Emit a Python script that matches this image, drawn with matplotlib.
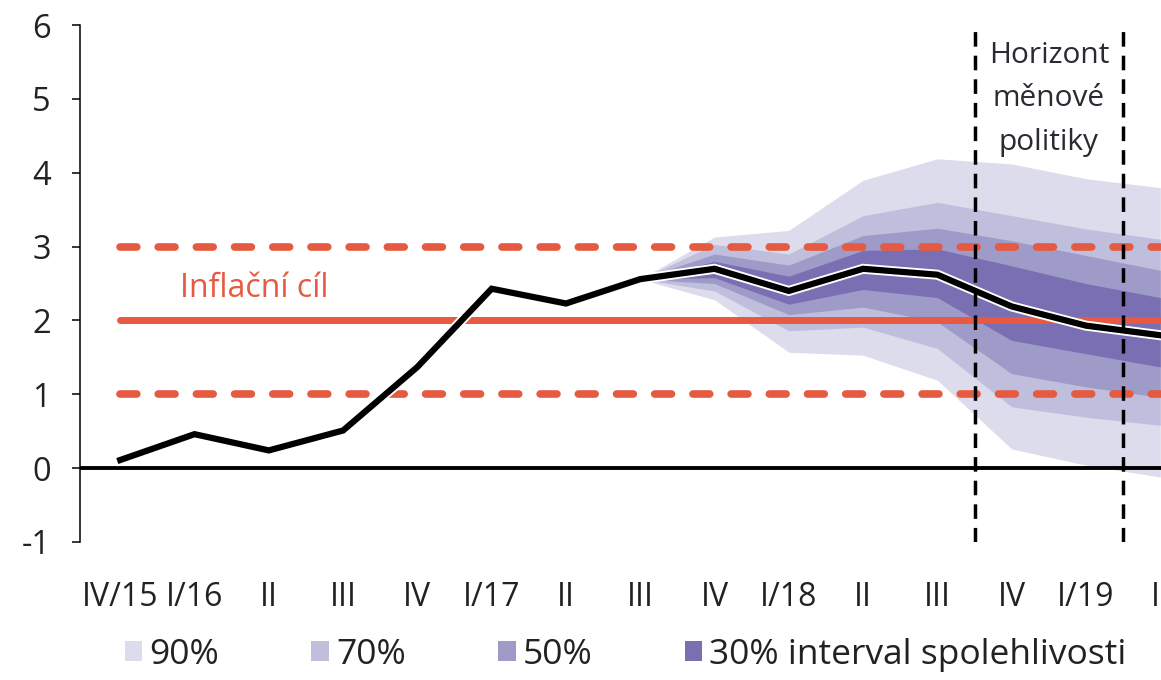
import matplotlib
matplotlib.use("Agg")
import matplotlib.pyplot as plt
import matplotlib.patheffects as pe
from matplotlib.patches import Patch

plt.rcParams['font.family'] = ['Open Sans', 'DejaVu Sans']
plt.rcParams['axes.unicode_minus'] = False

# quarters on the x axis
quarters = ['IV/15', 'I/16', 'II', 'III', 'IV', 'I/17', 'II', 'III', 'IV',
            'I/18', 'II', 'III', 'IV', 'I/19', 'II']

# headline inflation (history + forecast), %
inflation = [0.11, 0.46, 0.24, 0.51, 1.37, 2.43, 2.23, 2.56, 2.70, 2.40,
             2.70, 2.62, 2.19, 1.93, 1.80]

# fan chart starts at III/17 (index 7)
fan_start = 7
band90_hi = [2.56, 3.13, 3.22, 3.90, 4.19, 4.12, 3.92, 3.80]
band70_hi = [2.56, 3.03, 2.90, 3.42, 3.60, 3.42, 3.24, 3.10]
band50_hi = [2.56, 2.90, 2.75, 3.15, 3.25, 3.08, 2.88, 2.68]
band30_hi = [2.56, 2.80, 2.60, 2.95, 2.97, 2.74, 2.50, 2.31]
band30_lo = [2.56, 2.58, 2.22, 2.42, 2.31, 1.73, 1.55, 1.37]
band50_lo = [2.56, 2.50, 2.08, 2.18, 1.98, 1.28, 1.10, 0.96]
band70_lo = [2.56, 2.40, 1.86, 1.91, 1.62, 0.83, 0.69, 0.58]
band90_lo = [2.56, 2.28, 1.57, 1.53, 1.19, 0.26, 0.04, -0.12]

target = 2.0
target_band = [1.0, 3.0]
horizon = [11.5, 13.5]

band_colors = ['#dcdcec', '#bfbfdd', '#9e9bc9', '#7a6fb3']
band_labels = ['90%', '70%', '50%', '30% interval spolehlivosti']
red = '#e55a40'

x = list(range(len(quarters)))
xf = x[fan_start:]

fig = plt.figure(figsize=(11.61, 6.8), dpi=100)
ax = fig.add_axes([0.069, 0.203, 0.931, 0.760])

ax.fill_between(xf, band90_lo, band90_hi, color=band_colors[0], lw=0, zorder=1)
ax.fill_between(xf, band70_lo, band70_hi, color=band_colors[1], lw=0, zorder=1)
ax.fill_between(xf, band50_lo, band50_hi, color=band_colors[2], lw=0, zorder=1)
ax.fill_between(xf, band30_lo, band30_hi, color=band_colors[3], lw=0, zorder=1)

ax.plot(x, [target] * len(x), color=red, lw=5, solid_capstyle='round', zorder=3)
for v in target_band:
    ax.plot(x, [v] * len(x), color=red, lw=5.5, linestyle=(0, (2.2, 2.8)),
            dash_capstyle='round', zorder=3)

ax.axhline(0, color='black', lw=2.8, zorder=2)

ax.plot(x, inflation, color='black', lw=4.5, solid_joinstyle='miter', zorder=5,
        path_effects=[pe.Stroke(linewidth=7.2, foreground='white'), pe.Normal()])

for h in horizon:
    ax.axvline(h, color='black', lw=2.5, linestyle=(0, (4.2, 2.6)), zorder=6)

ax.text(0.81, 2.43, 'Inflační cíl', color=red, fontsize=23, ha='left', va='center')
ax.text(12.5, 5.0, 'Horizont\nměnové\npolitiky', color='#2a2a33', fontsize=21.5,
        ha='center', va='center', linespacing=1.68, zorder=7)

ax.set_xlim(-0.54, 14.01)
ax.set_ylim(-1, 6)
ax.set_yticks(range(-1, 7))
ax.set_xticks(x)
ax.set_xticklabels(quarters)

for s in ['top', 'right', 'bottom']:
    ax.spines[s].set_visible(False)
ax.spines['left'].set_linewidth(1.1)
ax.tick_params(axis='y', length=6, width=1.1, pad=15, labelsize=23.5, colors='black',
               labelcolor='#222222')
ax.tick_params(axis='x', length=0, pad=28, labelsize=23, labelcolor='#222222')

handles = [Patch(facecolor=c, edgecolor='none') for c in band_colors]
fig.legend(handles, band_labels, loc='lower left', bbox_to_anchor=(0.08, -0.035),
           ncol=4, frameon=False, fontsize=25.5, handlelength=0.5, handleheight=0.5,
           handletextpad=0.2, columnspacing=2.6, labelcolor='#222222')

fig.savefig('out.png', dpi=100)
